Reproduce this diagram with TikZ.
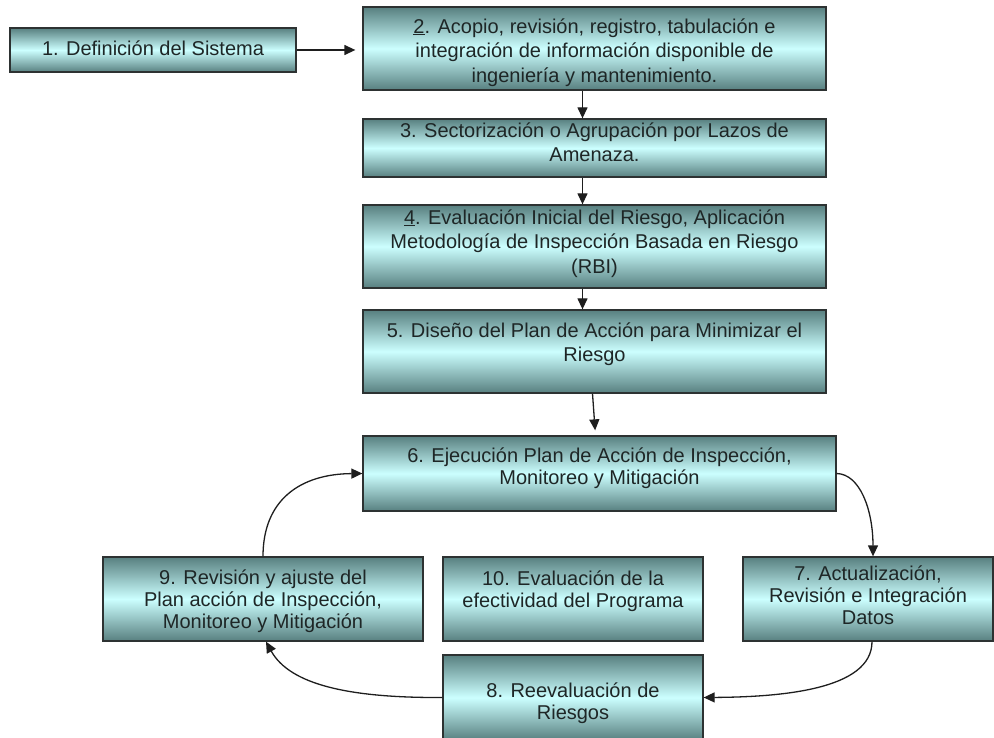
\documentclass[tikz,border=0pt]{standalone}
\usepackage{fontspec}
\setmainfont{Liberation Sans}
\usetikzlibrary{arrows.meta}
\definecolor{boxdark}{RGB}{88,128,128}
\definecolor{boxlight}{RGB}{204,255,255}
\definecolor{boxline}{RGB}{45,50,50}
\definecolor{txt}{RGB}{30,38,38}
\definecolor{arr}{RGB}{30,30,30}
\tikzset{
  box/.style={draw=boxline, line width=1.3pt, rectangle, inner sep=0pt,
    top color=boxdark, bottom color=boxdark, middle color=boxlight},
  bigtxt/.style={anchor=north, inner sep=0pt, align=center, text=txt,
    font=\fontsize{20}{24.5}\selectfont},
  smalltxt/.style={anchor=north, inner sep=0pt, align=center, text=txt,
    font=\fontsize{20}{22}\selectfont},
  conn/.style={draw=arr, line width=1.3pt, -{Triangle[length=11pt,width=10pt]}}
}
\newcommand{\fl}{\rule{0pt}{16pt}}
\begin{document}
\begin{tikzpicture}[x=1pt,y=-1pt]
\useasboundingbox (0,0) rectangle (994,738);
\clip (0,0) rectangle (994,738);
% boxes
\node[box, minimum width=286pt, minimum height=44pt] (b1) at (153,50) {};
\node[box, minimum width=463pt, minimum height=83pt] (b2) at (594.5,48.5) {};
\node[box, minimum width=463pt, minimum height=58pt] (b3) at (594.5,148) {};
\node[box, minimum width=463pt, minimum height=83pt] (b4) at (594.5,246.5) {};
\node[box, minimum width=463pt, minimum height=83pt] (b5) at (594.5,351.5) {};
\node[box, minimum width=473pt, minimum height=75pt] (b6) at (599.5,473.5) {};
\node[box, minimum width=320pt, minimum height=84pt] (b9) at (263,599) {};
\node[box, minimum width=260pt, minimum height=84pt] (b10) at (573,599) {};
\node[box, minimum width=250pt, minimum height=84pt] (b7) at (868,599) {};
\node[box, minimum width=260pt, minimum height=85pt] (b8) at (573,697.5) {};
% texts
\node[bigtxt] (t1) at (153,39) {\fl 1. Definición del Sistema};
\node[bigtxt] (t2) at (594.5,17) {\fl\underline{2}. Acopio, revisión, registro, tabulación e\\integración de información disponible de\\ingeniería y mantenimiento.};
\node[bigtxt] (t3) at (594.5,121) {\fl 3. Sectorización o Agrupación por Lazos de\\Amenaza.};
\node[bigtxt] (t4) at (594.5,208) {\fl\underline{4}. Evaluación Inicial del Riesgo, Aplicación\\Metodología de Inspección Basada en Riesgo\\(RBI)};
\node[bigtxt] (t5) at (594.5,321) {\fl 5. Diseño del Plan de Acción para Minimizar el\\Riesgo};
\node[smalltxt] (t6) at (599.5,446) {\fl 6. Ejecución Plan de Acción de Inspección,\\Monitoreo y Mitigación};
\node[smalltxt] (t9) at (263,568) {\fl 9. Revisión y ajuste del\\Plan acción de Inspección,\\Monitoreo y Mitigación};
\node[smalltxt] (t10) at (573,569) {\fl 10. Evaluación de la\\efectividad del Programa};
\node[smalltxt] (t7) at (868,564) {\fl 7. Actualización,\\Revisión e Integración\\Datos};
\node[smalltxt] (t8) at (573,681) {\fl 8. Reevaluación de\\Riesgos};
% connectors
\draw[conn, shorten >=7pt] (b1.east) -- (b1.east -| b2.west);
\draw[conn] ([xshift=-12pt]b2.south) -- ([xshift=-12pt]b3.north);
\draw[conn] ([xshift=-12pt]b3.south) -- ([xshift=-12pt]b4.north);
\draw[conn] ([xshift=-12pt]b4.south) -- ([xshift=-12pt]b5.north);
\draw[conn, shorten >=5pt] ([xshift=-2pt]b5.south) -- ([xshift=-4pt]b6.north);
\draw[conn] (b6.east) .. controls (860,474) and (873,510) .. ([xshift=5pt]b7.north);
\draw[conn] ([xshift=4pt]b7.south) .. controls (872,690) and (780,697) .. (b8.east);
\draw[conn] (b8.west) .. controls (350,698) and (290,685) .. ([xshift=3pt]b9.south);
\draw[conn] (b9.north) .. controls (263,500) and (300,474) .. (b6.west);
\end{tikzpicture}
\end{document}
